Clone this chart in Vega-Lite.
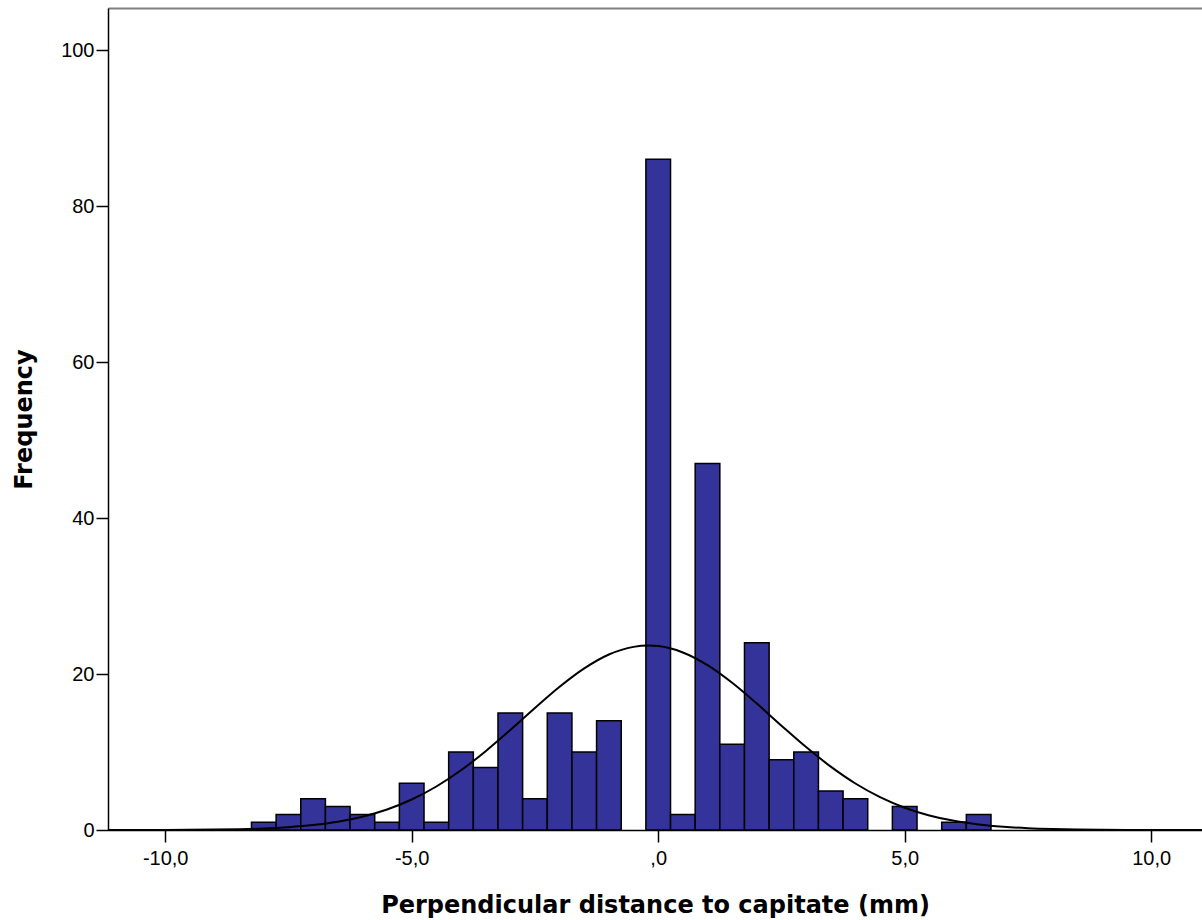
{
  "$schema": "https://vega.github.io/schema/vega-lite/v6.json",
  "width": 1094,
  "height": 822,
  "autosize": {"type": "none"},
  "padding": {"left": 108, "top": 8, "right": 0, "bottom": 90},
  "background": "white",
  "config": {
    "view": {"stroke": null},
    "axis": {
      "grid": false,
      "domainColor": "black",
      "domainWidth": 1.5,
      "tickColor": "black",
      "tickWidth": 1.5,
      "labelColor": "black",
      "titleColor": "black",
      "labelFont": "Liberation Sans",
      "labelFontSize": 20,
      "titleFont": "DejaVu Sans",
      "titleFontSize": 24,
      "titleFontWeight": "bold"
    }
  },
  "datasets": {
    "bins": [
      {"lo": -8.25, "hi": -7.75, "count": 1},
      {"lo": -7.75, "hi": -7.25, "count": 2},
      {"lo": -7.25, "hi": -6.75, "count": 4},
      {"lo": -6.75, "hi": -6.25, "count": 3},
      {"lo": -6.25, "hi": -5.75, "count": 2},
      {"lo": -5.75, "hi": -5.25, "count": 1},
      {"lo": -5.25, "hi": -4.75, "count": 6},
      {"lo": -4.75, "hi": -4.25, "count": 1},
      {"lo": -4.25, "hi": -3.75, "count": 10},
      {"lo": -3.75, "hi": -3.25, "count": 8},
      {"lo": -3.25, "hi": -2.75, "count": 15},
      {"lo": -2.75, "hi": -2.25, "count": 4},
      {"lo": -2.25, "hi": -1.75, "count": 15},
      {"lo": -1.75, "hi": -1.25, "count": 10},
      {"lo": -1.25, "hi": -0.75, "count": 14},
      {"lo": -0.25, "hi": 0.25, "count": 86},
      {"lo": 0.25, "hi": 0.75, "count": 2},
      {"lo": 0.75, "hi": 1.25, "count": 47},
      {"lo": 1.25, "hi": 1.75, "count": 11},
      {"lo": 1.75, "hi": 2.25, "count": 24},
      {"lo": 2.25, "hi": 2.75, "count": 9},
      {"lo": 2.75, "hi": 3.25, "count": 10},
      {"lo": 3.25, "hi": 3.75, "count": 5},
      {"lo": 3.75, "hi": 4.25, "count": 4},
      {"lo": 4.75, "hi": 5.25, "count": 3},
      {"lo": 5.75, "hi": 6.25, "count": 1},
      {"lo": 6.25, "hi": 6.75, "count": 2}
    ],
    "curve": [
      {"x": -11.16, "density": 0.002},
      {"x": -10.5, "density": 0.006},
      {"x": -10, "density": 0.013},
      {"x": -9.5, "density": 0.0275},
      {"x": -9, "density": 0.0557},
      {"x": -8.5, "density": 0.1087},
      {"x": -8, "density": 0.204},
      {"x": -7.5, "density": 0.368},
      {"x": -7, "density": 0.638},
      {"x": -6.5, "density": 1.065},
      {"x": -6, "density": 1.708},
      {"x": -5.5, "density": 2.634},
      {"x": -5, "density": 3.909},
      {"x": -4.5, "density": 5.579},
      {"x": -4, "density": 7.656},
      {"x": -3.5, "density": 10.10},
      {"x": -3, "density": 12.82},
      {"x": -2.5, "density": 15.64},
      {"x": -2, "density": 18.36},
      {"x": -1.5, "density": 20.72},
      {"x": -1, "density": 22.50},
      {"x": -0.5, "density": 23.48},
      {"x": -0.2, "density": 23.65},
      {"x": 0, "density": 23.58},
      {"x": 0.5, "density": 22.76},
      {"x": 1, "density": 21.13},
      {"x": 1.5, "density": 18.87},
      {"x": 2, "density": 16.21},
      {"x": 2.5, "density": 13.38},
      {"x": 3, "density": 10.63},
      {"x": 3.5, "density": 8.12},
      {"x": 4, "density": 5.96},
      {"x": 4.5, "density": 4.21},
      {"x": 5, "density": 2.86},
      {"x": 5.5, "density": 1.869},
      {"x": 6, "density": 1.174},
      {"x": 6.5, "density": 0.709},
      {"x": 7, "density": 0.412},
      {"x": 7.5, "density": 0.230},
      {"x": 8, "density": 0.124},
      {"x": 8.5, "density": 0.064},
      {"x": 9, "density": 0.032},
      {"x": 9.5, "density": 0.015},
      {"x": 10, "density": 0.007},
      {"x": 10.5, "density": 0.003},
      {"x": 11.03, "density": 0.001}
    ]
  },
  "layer": [
    {
      "data": {"name": "bins"},
      "mark": {"type": "rect", "fill": "#333399", "stroke": "black", "strokeWidth": 1.5},
      "encoding": {
        "x": {
          "field": "lo",
          "type": "quantitative",
          "scale": {"domain": [-11.16, 11.03], "nice": false, "zero": false},
          "axis": {
            "orient": "bottom",
            "values": [-10, -5, 0, 5, 10],
            "labelExpr": "datum.value == 0 ? ',0' : (datum.value < 0 ? '-' : '') + replace(format(abs(datum.value), '.1f'), '.', ',')",
            "tickSize": 12,
            "labelPadding": 6,
            "title": "Perpendicular distance to capitate (mm)",
            "titlePadding": 25
          }
        },
        "x2": {"field": "hi"},
        "y": {
          "field": "count",
          "type": "quantitative",
          "scale": {"domain": [0, 105.4], "nice": false, "padding": 0},
          "axis": {
            "values": [0, 20, 40, 60, 80, 100],
            "tickSize": 12,
            "labelPadding": 2,
            "title": "Frequency",
            "titlePadding": 24
          }
        },
        "y2": {"datum": 0}
      }
    },
    {
      "data": {"name": "curve"},
      "mark": {"type": "line", "color": "black", "strokeWidth": 2, "interpolate": "monotone"},
      "encoding": {
        "x": {
          "field": "x",
          "type": "quantitative",
          "axis": {"orient": "top", "labels": false, "ticks": false, "title": null, "domainColor": "#808080", "domainWidth": 2}
        },
        "y": {"field": "density", "type": "quantitative"}
      }
    }
  ],
  "resolve": {"axis": {"x": "independent"}}
}
